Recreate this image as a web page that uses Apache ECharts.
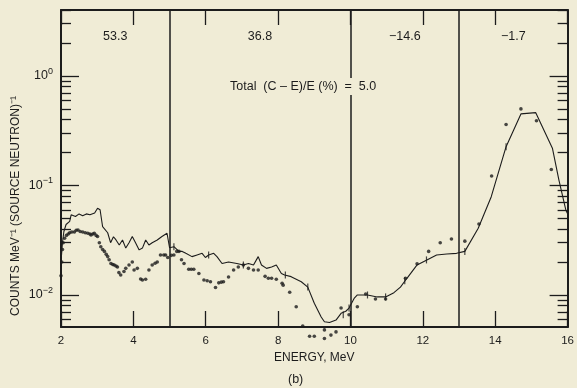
<!DOCTYPE html>
<html>
<head>
<meta charset="utf-8">
<script src="https://cdn.jsdelivr.net/npm/echarts@6/dist/echarts.min.js"></script>
<style>
html,body{margin:0;padding:0;background:#f0ecd6;}
#chart{width:577px;height:388px;}
</style>
</head>
<body>
<div id="chart"></div>
<script>
// ---- data ----
var calcEnergy = [2.0,2.04,2.08,2.14,2.24,2.28,2.4,2.5,2.6,2.7,2.8,2.93,3.01,3.08,3.15,3.29,3.37,3.45,3.52,3.61,3.70,3.79,3.88,3.97,4.06,4.16,4.25,4.34,4.43,4.52,4.66,4.79,4.93,5.0,5.12,5.26,5.35,5.45,5.62,5.76,5.90,5.99,6.08,6.22,6.31,6.45,6.63,6.86,7.04,7.18,7.32,7.45,7.54,7.68,7.82,7.95,8.09,8.18,8.36,8.64,8.82,9.0,9.19,9.28,9.42,9.6,9.74,9.87,9.96,10.1,10.19,10.47,10.74,10.97,11.2,11.38,11.56,11.84,12.11,12.38,12.66,12.93,13.16,13.53,13.89,14.3,14.71,15.12,15.58,15.76,15.95,16.0];
var calcCounts = [0.020,0.030,0.038,0.044,0.047,0.054,0.052,0.055,0.053,0.055,0.054,0.056,0.062,0.060,0.042,0.037,0.030,0.034,0.0318,0.0286,0.0318,0.0268,0.030,0.0342,0.030,0.0258,0.0268,0.0318,0.0286,0.030,0.0318,0.0342,0.0366,0.027,0.0276,0.025,0.025,0.024,0.0224,0.0232,0.024,0.022,0.0232,0.024,0.0224,0.0194,0.020,0.0194,0.0188,0.0194,0.0188,0.0224,0.0188,0.0175,0.018,0.0188,0.0157,0.0152,0.0147,0.0132,0.0118,0.0084,0.0063,0.0057,0.0056,0.0059,0.0068,0.0071,0.0076,0.0093,0.010,0.010,0.0096,0.0096,0.0105,0.0118,0.0142,0.0188,0.0209,0.0232,0.0237,0.024,0.025,0.0406,0.079,0.226,0.45,0.462,0.219,0.112,0.0597,0.055];
var exptEnergy = [2.0,2.02,2.04,2.06,2.1,2.15,2.2,2.24,2.3,2.37,2.42,2.47,2.53,2.6,2.67,2.74,2.8,2.83,2.88,2.92,2.97,3.01,3.06,3.1,3.15,3.2,3.25,3.29,3.33,3.38,3.43,3.47,3.52,3.56,3.6,3.65,3.74,3.79,3.88,3.97,4.02,4.11,4.2,4.25,4.34,4.43,4.52,4.6,4.66,4.75,4.84,4.89,4.95,5.05,5.12,5.2,5.26,5.33,5.4,5.53,5.6,5.67,5.81,5.95,6.04,6.13,6.27,6.36,6.43,6.49,6.63,6.77,6.9,7.04,7.18,7.32,7.45,7.64,7.73,7.82,7.95,8.11,8.14,8.32,8.5,8.68,8.87,9.0,9.28,9.28,9.46,9.6,9.74,9.96,10.19,10.42,10.69,10.97,11.52,11.84,12.16,12.48,12.79,13.16,13.55,13.9,14.3,14.71,15.14,15.55];
var exptCounts = [0.015,0.020,0.026,0.030,0.033,0.035,0.036,0.037,0.0376,0.0376,0.039,0.0392,0.038,0.0376,0.037,0.0366,0.036,0.0353,0.036,0.0366,0.035,0.0342,0.030,0.0276,0.026,0.025,0.0235,0.0224,0.021,0.0194,0.019,0.0188,0.0184,0.018,0.016,0.0152,0.0164,0.0175,0.0188,0.020,0.0169,0.0175,0.014,0.0137,0.0139,0.0169,0.0188,0.0195,0.020,0.0232,0.0232,0.0232,0.022,0.023,0.0232,0.025,0.025,0.021,0.0194,0.0172,0.0172,0.0172,0.0157,0.0137,0.0135,0.0132,0.0117,0.0129,0.0131,0.0132,0.0146,0.0169,0.018,0.0188,0.0175,0.0169,0.0169,0.0148,0.0142,0.0142,0.0139,0.0128,0.0123,0.0106,0.0078,0.0052,0.0042,0.0042,0.0048,0.0040,0.0043,0.0046,0.0076,0.0066,0.0078,0.0102,0.0092,0.0092,0.0142,0.0193,0.025,0.030,0.0324,0.031,0.0445,0.122,0.36,0.50,0.39,0.14];
var errEnergy = [5.12,6.08,7.04,8.2,8.82,9.8,9.96,10.47,10.97,11.5,12.1,13.16,14.3];
var errCounts = [0.0276,0.0232,0.0188,0.0152,0.0118,0.0066,0.0076,0.010,0.0096,0.0135,0.0209,0.025,0.226];
var regionBounds = [2,5,10,13,16];
var regionLabels = ['53.3','36.8','\u221214.6','\u22121.7'];
var yMajor = [0.01,0.1,1];
var yMinor = [0.006,0.007,0.008,0.009,0.02,0.03,0.04,0.05,0.06,0.07,0.08,0.09,0.2,0.3,0.4,0.5,0.6,0.7,0.8,0.9,2,3,4];
var totalText = 'Total  (C \u2013 E)/E (%)  =  5.0';
var yTitle = 'COUNTS MeV\u207B\u00B9 (SOURCE NEUTRON)\u207B\u00B9';
var xTitle = 'ENERGY, MeV';
var panelTag = '(b)';

// ---- chart ----
var INK = '#1c1c1c';
var BG = '#f0ecd6';
var FONT = '"Liberation Sans", Arial, sans-serif';
function zip(a,b){return a.map(function(v,i){return [v,b[i]];});}
var yMin = 0.0051, yMax = 4.0;
function yAx(pos, major, labels){
  return {
    type:'log', logBase:10, min:yMin, max:yMax, position:pos,
    axisLine:{show:major, lineStyle:{color:INK,width:2}},
    axisTick:{show:true, inside:true, length: major?18:10, customValues: major?yMajor:yMinor, lineStyle:{color:INK,width:1.3}},
    axisLabel:{show:labels, customValues:yMajor, margin:8, fontFamily:FONT, color:INK,
      formatter:function(v){var e=Math.round(Math.log10(v)); return '{b|10}{s|'+(e<0?'\u2212'+(-e):e)+'}';},
      rich:{b:{fontSize:12.5,lineHeight:18,fontFamily:FONT,color:INK}, s:{fontSize:9,lineHeight:10,verticalAlign:'top',fontFamily:FONT,color:INK}}},
    splitLine:{show:false}
  };
}
var areas = [];
for (var i=0;i<regionLabels.length;i++){
  areas.push([{xAxis:regionBounds[i], name:regionLabels[i]},{xAxis:regionBounds[i+1]}]);
}
var chart = echarts.init(document.getElementById('chart'), null, {renderer:'canvas'});
chart.setOption({
  backgroundColor: BG,
  animation:false,
  grid:{left:61, right:5, top:10, bottom:61},
  xAxis:[
    {type:'value', min:2, max:16, interval:2, position:'bottom',
     axisLine:{lineStyle:{color:INK,width:2}},
     axisTick:{inside:true,length:16,lineStyle:{color:INK,width:1.3}},
     axisLabel:{margin:8,fontFamily:FONT,fontSize:11.5,color:INK},
     splitLine:{show:false},
     name:xTitle, nameLocation:'middle', nameGap:25,
     nameTextStyle:{fontFamily:FONT,fontSize:12,color:INK}},
    {type:'value', min:2, max:16, interval:2, position:'top',
     axisLine:{lineStyle:{color:INK,width:2}},
     axisTick:{inside:true,length:15,lineStyle:{color:INK,width:1.3}},
     axisLabel:{show:false}, splitLine:{show:false}}
  ],
  yAxis:[ yAx('left',true,true), yAx('left',false,false), yAx('right',true,false), yAx('right',false,false) ],
  series:[
    {type:'line', name:'calc', data:zip(calcEnergy,calcCounts), showSymbol:false, symbol:'none',
     lineStyle:{color:INK,width:1.1}, z:3,
     markLine:{silent:true, symbol:'none', label:{show:false},
       lineStyle:{color:INK,width:1.5,type:'solid'},
       data:[{xAxis:regionBounds[1]},{xAxis:regionBounds[2]},{xAxis:regionBounds[3]}]},
     markArea:{silent:true, itemStyle:{color:'rgba(0,0,0,0)'},
       label:{show:true, position:'insideTop', distance:20, fontFamily:FONT, fontSize:12.5, color:INK},
       data:areas}
    },
    {type:'scatter', name:'expt', data:zip(exptEnergy,exptCounts), symbol:'circle', symbolSize:3.6,
     itemStyle:{color:INK}, clip:false, z:4},
    {type:'scatter', name:'err', data:zip(errEnergy,errCounts), symbol:'rect', symbolSize:[1.2,7],
     itemStyle:{color:INK}, z:4}
  ],
  graphic:[
    {type:'text', left:229, top:78, z:10,
     style:{text:totalText, fontFamily:FONT, fontSize:12.5, fill:INK, backgroundColor:BG, padding:[2,1,2,1]}},
    {type:'text', x:16, y:206, rotation:Math.PI/2, z:10,
     style:{text:yTitle, fontFamily:FONT, fontSize:12, fill:INK, align:'center', verticalAlign:'middle'}},
    {type:'text', left:288, top:373, z:10,
     style:{text:panelTag, fontFamily:FONT, fontSize:12.5, fill:INK}}
  ]
});
</script>
</body>
</html>
